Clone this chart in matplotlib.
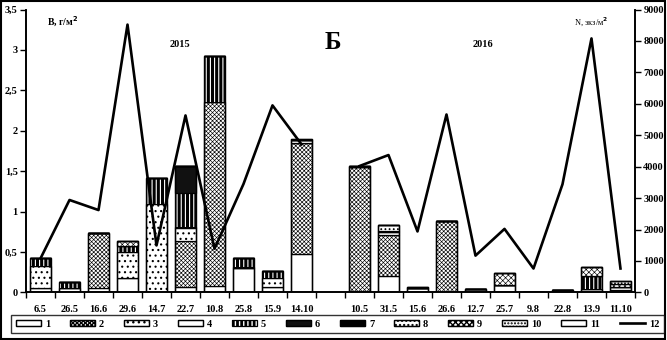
import matplotlib
matplotlib.use("Agg")

import numpy as np
import matplotlib.pyplot as plt
from matplotlib.patches import Patch, Rectangle
from matplotlib.lines import Line2D

# dates of sampling
dates_2015 = ["6.5", "26.5", "16.6", "29.6", "14.7", "22.7", "10.8", "25.8", "15.9", "14.10"]
dates_2016 = ["10.5", "31.5", "15.6", "26.6", "12.7", "25.7", "9.8", "22.8", "13.9", "11.10"]

# biomass by group, g/m2 (2015 then 2016)
c1 = [0.05, 0.06, 0.06, 0.18, 0.00, 0.07, 0.08, 0.30, 0.07, 0.48,
      0.02, 0.20, 0.05, 0.00, 0.045, 0.09, 0.00, 0.035, 0.04, 0.03]
c2 = [0.00, 0.00, 0.67, 0.00, 0.00, 0.56, 2.27, 0.00, 0.00, 1.37,
      1.53, 0.51, 0.00, 0.88, 0.00, 0.00, 0.00, 0.00, 0.00, 0.00]
c3 = [0.28, 0.00, 0.00, 0.32, 1.09, 0.17, 0.00, 0.00, 0.11, 0.00,
      0.00, 0.00, 0.00, 0.00, 0.00, 0.00, 0.00, 0.00, 0.00, 0.00]
c4 = [0.00, 0.00, 0.00, 0.00, 0.00, 0.01, 0.00, 0.02, 0.00, 0.03,
      0.00, 0.035, 0.00, 0.00, 0.00, 0.00, 0.00, 0.00, 0.00, 0.04]
c5 = [0.10, 0.07, 0.00, 0.08, 0.33, 0.42, 0.57, 0.11, 0.08, 0.00,
      0.00, 0.00, 0.00, 0.00, 0.00, 0.00, 0.00, 0.00, 0.16, 0.00]
c6 = [0.00, 0.00, 0.00, 0.00, 0.00, 0.34, 0.00, 0.00, 0.00, 0.00,
      0.00, 0.00, 0.00, 0.00, 0.00, 0.00, 0.00, 0.00, 0.00, 0.00]
c7 = [0.00, 0.00, 0.00, 0.00, 0.00, 0.00, 0.00, 0.00, 0.00, 0.00,
      0.02, 0.015, 0.00, 0.00, 0.00, 0.00, 0.00, 0.00, 0.00, 0.00]
c8 = [0.00, 0.00, 0.00, 0.00, 0.00, 0.00, 0.00, 0.00, 0.00, 0.00,
      0.00, 0.07, 0.00, 0.00, 0.00, 0.00, 0.00, 0.00, 0.00, 0.00]
c9 = [0.00, 0.00, 0.00, 0.05, 0.00, 0.00, 0.00, 0.00, 0.00, 0.00,
      0.00, 0.00, 0.00, 0.00, 0.00, 0.155, 0.00, 0.00, 0.11, 0.03]
c10 = [0.00, 0.00, 0.01, 0.00, 0.00, 0.00, 0.00, 0.00, 0.00, 0.00,
       0.00, 0.00, 0.015, 0.00, 0.00, 0.00, 0.00, 0.00, 0.00, 0.04]
c11 = [0.00, 0.00, 0.00, 0.00, 0.00, 0.00, 0.00, 0.00, 0.00, 0.02,
       0.00, 0.00, 0.00, 0.00, 0.00, 0.00, 0.00, 0.00, 0.00, 0.00]

# abundance, ind./m2
n_2015 = [1080, 2940, 2620, 8520, 1495, 5630, 1390, 3450, 5950, 4710]
n_2016 = [4020, 4370, 1940, 5660, 1170, 2020, 760, 3440, 8080, 760]

groups = [c1, c2, c3, c4, c5, c6, c7, c8, c9, c10, c11]
# (facecolor, edgecolor, hatch, hatch linewidth, edge linewidth)
styles = [
    ("white", "black", None, 0.8, 0.9),
    ("white", "black", "xxxxxxxx", 0.45, 0.9),
    ("white", "black", "...", 0.8, 0.9),
    ("white", "black", None, 0.8, 0.9),
    ("black", "white", "||||", 0.8, 0.0),
    ("#111111", "black", None, 0.8, 0.9),
    ("black", "black", None, 0.8, 0.9),
    ("white", "black", "....", 0.8, 0.9),
    ("white", "black", "xxxxxx", 0.45, 0.9),
    ("white", "black", ".....", 0.8, 0.9),
    ("white", "black", None, 0.8, 0.9),
]

plt.rcParams["font.family"] = ["Liberation Serif", "DejaVu Serif"]
plt.rcParams["font.weight"] = "bold"

fig = plt.figure(figsize=(6.67, 3.4), dpi=100)
ax = fig.add_axes([0.039, 0.14, 0.913, 0.832])
ax2 = ax.twinx()

x15 = np.arange(len(dates_2015))
x16 = np.arange(len(dates_2016)) + len(dates_2015) + 1
x = np.concatenate([x15, x16])

bottom = np.zeros(len(x))
handles = []
outline = Patch(facecolor="none", edgecolor="black", linewidth=0.9)
for vals, (fc, ec, hatch, hlw, lw) in zip(groups, styles):
    vals = np.array(vals)
    with plt.rc_context({"hatch.linewidth": hlw}):
        ax.bar(x, vals, bottom=bottom, width=0.72, facecolor=fc,
               edgecolor=ec, hatch=hatch, linewidth=lw)
        handles.append((Patch(facecolor=fc, edgecolor=ec, hatch=hatch,
                              linewidth=lw), outline))
    bottom += vals

# outline of every whole bar
ax.bar(x, bottom, width=0.72, fill=False, edgecolor="black", linewidth=1.0)

ax2.plot(x15, n_2015, color="black", lw=1.9)
ax2.plot(x16, n_2016, color="black", lw=1.9)

ax.set_xlim(-0.5, x16[-1] + 0.5)
ax.set_ylim(0, 3.5)
ax2.set_ylim(0, 9000)

ax.set_xticks(x)
ax.set_xticklabels(dates_2015 + dates_2016, fontsize=7.5, fontweight="bold")
ax.set_xticks(np.arange(-0.5, x16[-1] + 1), minor=True)
ax.tick_params(axis="x", which="major", length=0, pad=9)
ax.tick_params(axis="x", which="minor", length=4, width=1, direction="out")

yt = np.arange(0, 3.51, 0.5)
ax.set_yticks(yt)
ax.set_yticklabels([("%g" % v).replace(".", ",") for v in yt], fontsize=7.5)
ax.tick_params(axis="y", length=4, width=1, pad=2)
ax2.set_yticks(np.arange(0, 9001, 1000))
ax2.tick_params(axis="y", length=4, width=1, pad=2, labelsize=7.5)

for a in (ax, ax2):
    a.spines["top"].set_visible(False)
    for s in ("left", "right", "bottom"):
        a.spines[s].set_linewidth(1.2)

fig.text(0.07, 0.935, "В, г/м$^2$", fontsize=7, ha="left", va="center")
fig.text(0.86, 0.935, "N, экз/м$^2$", fontsize=6, ha="left", va="center",
         fontweight="normal")
fig.text(0.27, 0.868, "2015", fontsize=7.5, ha="center", va="center")
fig.text(0.724, 0.868, "2016", fontsize=7.5, ha="center", va="center")
fig.text(0.499, 0.875, "Б", fontsize=18, ha="center", va="center")

handles.append(Line2D([0], [0], color="black", lw=1.9))
labels = [str(i) for i in range(1, 13)]
leg = fig.legend(handles, labels, ncol=12, loc="center", mode="expand",
                 bbox_to_anchor=(0.0165, 0.012, 0.979, 0.07), fontsize=7.5,
                 frameon=True, fancybox=False, edgecolor="black",
                 handlelength=2.4, handleheight=0.5, handletextpad=0.4,
                 borderpad=0.45, borderaxespad=0)
leg.get_frame().set_linewidth(1.0)

fig.add_artist(Rectangle((0.002, 0.003), 0.995, 0.994, transform=fig.transFigure,
                         fill=False, edgecolor="black", linewidth=1.5))

plt.savefig("out.png", dpi=100)
plt.close()
